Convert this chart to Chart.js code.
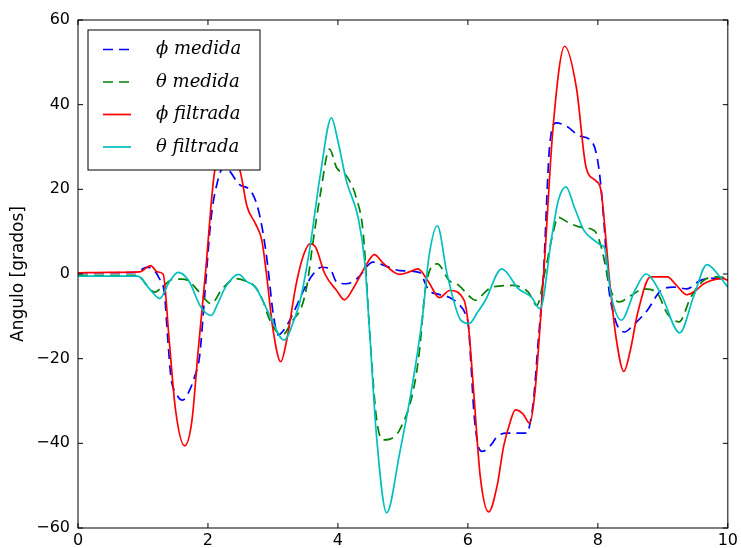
<!DOCTYPE html>
<html>
<head>
<meta charset="utf-8">
<script src="https://cdn.jsdelivr.net/npm/chart.js@4"></script>
<style>
  body { margin: 0; background: #fff; }
  #angChart { display: block; }
</style>
</head>
<body>
<canvas id="angChart" width="741" height="548"></canvas>
<script>
// phi medida (blue dashed)
const phiMedX = [0, 0.5, 0.9, 1.05, 1.15, 1.25, 1.33, 1.38, 1.43, 1.52, 1.61, 1.7, 1.8, 1.87, 1.95, 2.05, 2.15, 2.25, 2.33, 2.48, 2.66, 2.78, 2.89, 2.94, 3.0, 3.08, 3.2, 3.35, 3.47, 3.62, 3.75, 3.88, 3.98, 4.13, 4.3, 4.54, 4.75, 4.95, 5.25, 5.4, 5.55, 5.71, 5.85, 5.96, 6.01, 6.05, 6.09, 6.15, 6.22, 6.35, 6.45, 6.6, 6.91, 6.96, 7.01, 7.08, 7.16, 7.26, 7.36, 7.52, 7.72, 7.92, 8.02, 8.1, 8.15, 8.27, 8.41, 8.55, 8.76, 8.97, 9.17, 9.37, 9.58, 9.8, 10];
const phiMedY = [0.3, 0.3, 0.4, 1.6, 1.2, -1.0, -4.6, -15, -24.3, -28.5, -29.8, -28, -24, -19.6, -5, 13.4, 22, 25.5, 24.4, 21.2, 19.6, 14.9, 5.5, -0.8, -9, -14.4, -12.5, -8, -3.9, 0, 1.6, 1.2, -1.9, -2.3, -1, 2.8, 1.8, 0.8, 0.4, -3.9, -4.8, -5.5, -7, -9.4, -12.5, -22, -32.1, -40, -41.9, -40.5, -38.4, -37.6, -37.6, -35, -29.8, -16.4, -0.8, 30.6, 35.7, 34.9, 32.6, 31, 24.4, 11, -0.8, -10.9, -13.7, -12, -8.6, -3.9, -3.1, -3.5, -1.5, -1, -1.3];

// theta medida (green dashed)
const thetaMedX = [0, 0.5, 0.92, 1.05, 1.18, 1.3, 1.45, 1.6, 1.71, 1.85, 2.05, 2.22, 2.43, 2.6, 2.73, 2.85, 2.94, 3.14, 3.3, 3.44, 3.52, 3.62, 3.73, 3.87, 3.98, 4.13, 4.28, 4.39, 4.49, 4.59, 4.69, 4.8, 4.95, 5.15, 5.25, 5.35, 5.53, 5.71, 5.86, 6.04, 6.12, 6.25, 6.37, 6.68, 6.93, 7.06, 7.19, 7.3, 7.39, 7.54, 7.75, 7.95, 8.05, 8.2, 8.33, 8.51, 8.71, 8.92, 9.07, 9.25, 9.43, 9.63, 9.83, 10];
const thetaMedY = [-0.3, -0.3, -0.3, -2.5, -4.3, -3, -1.3, -1.2, -1.7, -4, -7, -3.5, -1.1, -1.8, -3.1, -6.5, -10.5, -14.5, -11, -7.8, -3, 7.9, 18.9, 29.5, 25.1, 23.2, 18.1, 9.5, -14.1, -33.7, -39.2, -39, -36.8, -28.2, -18.8, -3.1, 2.4, -1.5, -2.7, -5.5, -6.2, -4.5, -3.1, -2.7, -4.3, -7.4, 0.8, 9, 13.4, 12.2, 11, 10.2, 6.5, -3.9, -6.6, -5.1, -3.5, -4.7, -9.4, -11.3, -5.5, -1.5, -0.7, -1];

// phi filtrada (red)
const phiFilX = [0, 0.5, 0.95, 1.12, 1.22, 1.31, 1.4, 1.5, 1.64, 1.75, 1.85, 1.96, 2.1, 2.25, 2.4, 2.5, 2.6, 2.73, 2.83, 2.9, 3.0, 3.12, 3.22, 3.35, 3.45, 3.57, 3.65, 3.8, 3.98, 4.1, 4.25, 4.46, 4.56, 4.7, 4.95, 5.1, 5.23, 5.4, 5.56, 5.72, 5.94, 6.01, 6.09, 6.19, 6.32, 6.45, 6.55, 6.65, 6.73, 6.85, 6.95, 7.03, 7.11, 7.18, 7.31, 7.49, 7.67, 7.82, 7.97, 8.05, 8.13, 8.18, 8.28, 8.4, 8.5, 8.61, 8.81, 9.07, 9.2, 9.37, 9.5, 9.63, 9.93, 10];
const phiFilY = [0.3, 0.4, 0.5, 2.0, 0.5, 0, -15, -32, -40.6, -35, -18, 0, 24, 30, 28, 24, 16, 11.9, 7.9, 0, -13, -20.7, -15, -3, 3.5, 7.1, 6.5, 0, -3.9, -6.1, -3, 2.8, 4.6, 2.5, -0.1, 0.5, 1.2, -2, -5.6, -3.9, -6.2, -12.5, -28, -47.8, -56.2, -50, -40.7, -35, -32.1, -33.1, -35.3, -28.2, -12.5, 3.2, 34.5, 53.8, 44, 25.1, 22, 19.6, 7.1, -1.5, -15, -23, -18, -9.4, -0.7, -0.7, -2.5, -4.9, -4, -2.3, -1.1, -1.5];

// theta filtrada (cyan)
const thetaFilX = [0, 0.5, 0.92, 1.1, 1.26, 1.4, 1.54, 1.7, 1.89, 2.05, 2.15, 2.27, 2.47, 2.6, 2.73, 2.94, 3.17, 3.34, 3.42, 3.57, 3.73, 3.9, 4.0, 4.13, 4.31, 4.41, 4.49, 4.59, 4.75, 4.95, 5.15, 5.3, 5.4, 5.53, 5.68, 5.89, 6.02, 6.15, 6.27, 6.52, 6.78, 6.98, 7.11, 7.29, 7.39, 7.51, 7.64, 7.79, 7.95, 8.05, 8.1, 8.2, 8.36, 8.57, 8.74, 8.97, 9.26, 9.47, 9.68, 9.88, 10];
const thetaFilY = [-0.5, -0.5, -0.5, -3.5, -5.8, -2, 0.4, -1.5, -7.8, -9.8, -7, -3.1, -0.1, -1.8, -3.1, -9.4, -15.6, -10.2, -6.2, 6.3, 23.6, 36.9, 31.4, 22, 13.4, 3.2, -14.1, -37.6, -56.4, -42.3, -25.8, -10.2, 4.0, 11.4, 0, -10.9, -11.7, -9, -6.2, 1.2, -3.5, -5.5, -8.2, 8.7, 17.3, 20.6, 15.7, 10.2, 7.9, 6.8, 6.3, -4.7, -10.9, -3.9, 0, -4.7, -13.9, -5.5, 2.2, -0.7, -3.1];

const legendLabels = ['ϕ medida', 'θ medida', 'ϕ filtrada', 'θ filtrada'];
const xTicks = [0, 2, 4, 6, 8, 10];
const yTicks = [-60, -40, -20, 0, 20, 40, 60];

function pts(xs, ys) {
  return xs.map((x, i) => ({ x: x, y: ys[i] }));
}

// frame with inward ticks on all four sides, like the classic matplotlib look
const framePlugin = {
  id: 'frame',
  afterDraw(chart) {
    const { ctx, chartArea: a, scales } = chart;
    ctx.save();
    ctx.strokeStyle = '#000';
    ctx.lineWidth = 1;
    ctx.strokeRect(a.left, a.top, a.right - a.left, a.bottom - a.top);
    ctx.beginPath();
    xTicks.forEach(v => {
      const px = scales.x.getPixelForValue(v);
      ctx.moveTo(px, a.bottom); ctx.lineTo(px, a.bottom - 5);
      ctx.moveTo(px, a.top); ctx.lineTo(px, a.top + 5);
    });
    yTicks.forEach(v => {
      const py = scales.y.getPixelForValue(v);
      ctx.moveTo(a.left, py); ctx.lineTo(a.left + 5, py);
      ctx.moveTo(a.right, py); ctx.lineTo(a.right - 5, py);
    });
    ctx.stroke();
    ctx.restore();
  }
};

// legend box drawn inside the plot area, upper left
const legendPlugin = {
  id: 'innerLegend',
  afterDraw(chart) {
    const { ctx, chartArea: a } = chart;
    const bx = a.left + 10, by = a.top + 10, bw = 172, bh = 140;
    ctx.save();
    ctx.fillStyle = '#fff';
    ctx.fillRect(bx, by, bw, bh);
    ctx.strokeStyle = '#000';
    ctx.lineWidth = 1;
    ctx.strokeRect(bx, by, bw, bh);
    ctx.font = 'italic 18px "DejaVu Serif"';
    ctx.textBaseline = 'middle';
    chart.data.datasets.forEach((ds, i) => {
      const y = by + 19.5 + i * 32.5;
      ctx.beginPath();
      ctx.strokeStyle = ds.borderColor;
      ctx.lineWidth = ds.borderWidth;
      ctx.setLineDash(ds.borderDash || []);
      ctx.moveTo(bx + 15, y);
      ctx.lineTo(bx + 43, y);
      ctx.stroke();
      ctx.setLineDash([]);
      ctx.fillStyle = '#000';
      ctx.fillText(legendLabels[i], bx + 68, y);
    });
    ctx.restore();
  }
};

const ctx = document.getElementById('angChart').getContext('2d');

const angChart = new Chart(ctx, {
  type: 'line',
  data: {
    datasets: [
      { data: pts(phiMedX, phiMedY), borderColor: '#0000ff', borderWidth: 1.7, borderDash: [10, 6], order: 3 },
      { data: pts(thetaMedX, thetaMedY), borderColor: '#008000', borderWidth: 1.7, borderDash: [10, 6], order: 2 },
      { data: pts(phiFilX, phiFilY), borderColor: '#ff0000', borderWidth: 1.7, order: 1 },
      { data: pts(thetaFilX, thetaFilY), borderColor: '#00bfbf', borderWidth: 1.7, order: 0 }
    ]
  },
  options: {
    responsive: false,
    animation: false,
    events: [],
    layout: { padding: { top: 20, right: 8, bottom: 0, left: 0 } },
    elements: {
      point: { radius: 0 },
      line: { cubicInterpolationMode: 'monotone', fill: false }
    },
    plugins: {
      legend: { display: false },
      tooltip: { enabled: false }
    },
    scales: {
      x: {
        type: 'linear',
        min: 0,
        max: 10,
        grid: { display: false, drawTicks: false },
        border: { display: false },
        ticks: {
          stepSize: 2,
          padding: 3,
          color: '#000',
          font: { family: 'DejaVu Sans', size: 16 },
          maxRotation: 0
        },
        afterFit(s) { s.height = 20; }
      },
      y: {
        min: -60,
        max: 60,
        grid: { display: false, drawTicks: false },
        border: { display: false },
        ticks: {
          stepSize: 20,
          padding: 8,
          color: '#000',
          font: { family: 'DejaVu Sans', size: 16 },
          callback: v => (v < 0 ? '\u2212' + Math.abs(v) : String(v))
        },
        title: {
          display: true,
          text: 'Angulo [grados]',
          color: '#000',
          font: { family: 'DejaVu Sans', size: 17 },
          padding: { top: 8, bottom: 0 }
        },
        afterFit(s) { s.width = 78; }
      }
    }
  },
  plugins: [framePlugin, legendPlugin]
});
</script>
</body>
</html>
